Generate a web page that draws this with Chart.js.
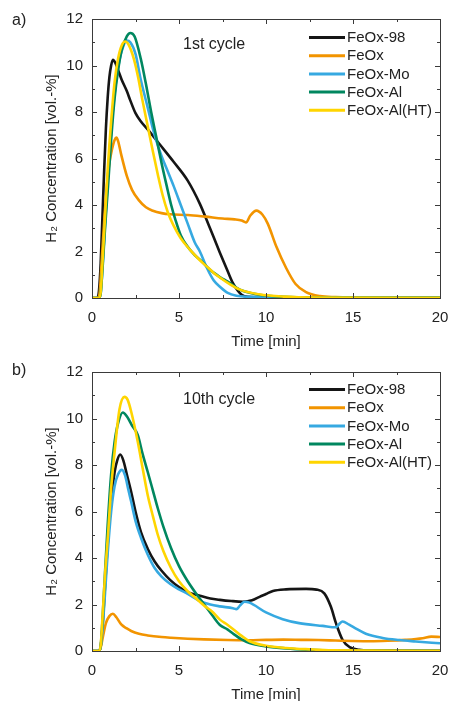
<!DOCTYPE html>
<html>
<head>
<meta charset="utf-8">
<script src="https://cdn.jsdelivr.net/npm/chart.js@4.4.0/dist/chart.umd.min.js"></script>
<style>
  html, body { margin: 0; padding: 0; background: #fff; overflow: hidden; }
  body { width: 449px; height: 701px; position: relative; }
  canvas { position: absolute; left: 0; }
  #chartA { top: 0; }
  #chartB { top: 351px; }
</style>
</head>
<body>
<canvas id="chartA" width="449" height="352"></canvas>
<canvas id="chartB" width="449" height="356"></canvas>
<script>
// series names and colours
const seriesNames = ['FeOx-98', 'FeOx', 'FeOx-Mo', 'FeOx-Al', 'FeOx-Al(HT)'];
const seriesColors = ['#151515', '#F29400', '#36A9E1', '#00875F', '#FFD500'];

const xTicks = [0, 5, 10, 15, 20];
const yTicks = [0, 2, 4, 6, 8, 10, 12];

// a) 1st cycle
const tA98 = [0, 0.3, 0.4, 0.5, 0.6, 0.7, 0.8, 0.9, 1.0, 1.1, 1.2, 1.35, 1.5, 1.7, 2.0, 2.2, 2.5, 2.8, 3.2, 3.9, 4.7, 5.5, 6.2, 6.7, 7.0, 7.35, 7.8, 8.1, 8.6, 9.0, 10, 20];
const vA98 = [0, 0, 0.3, 1.5, 3.5, 5.5, 7.3, 8.6, 9.5, 10.0, 10.25, 10.1, 9.8, 9.4, 8.9, 8.5, 7.95, 7.6, 7.25, 6.6, 5.85, 5.05, 4.05, 3.15, 2.6, 1.95, 1.15, 0.64, 0.14, 0.05, 0.03, 0.02];

const tAFe = [0, 0.35, 0.45, 0.55, 0.7, 0.85, 1.0, 1.15, 1.3, 1.4, 1.5, 1.7, 2.0, 2.3, 2.7, 3.1, 3.5, 4.0, 4.5, 5.5, 6.5, 7.5, 8.2, 8.6, 8.85, 9.1, 9.45, 9.8, 10.1, 10.6, 11.15, 11.7, 12.3, 13.1, 14, 16, 20];
const vAFe = [0, 0, 0.3, 1.5, 3.3, 4.8, 5.8, 6.4, 6.8, 6.9, 6.75, 6.1, 5.25, 4.65, 4.2, 3.9, 3.75, 3.65, 3.6, 3.57, 3.5, 3.42, 3.38, 3.33, 3.25, 3.55, 3.76, 3.58, 3.2, 2.2, 1.3, 0.6, 0.25, 0.08, 0.04, 0.02, 0.02];

const tAMo = [0, 0.4, 0.5, 0.6, 0.75, 0.9, 1.1, 1.3, 1.5, 1.7, 2.0, 2.2, 2.5, 2.8, 3.2, 3.6, 4.0, 4.35, 4.7, 5.1, 5.5, 5.9, 6.2, 6.6, 7.0, 7.4, 7.8, 8.3, 9, 10, 20];
const vAMo = [0, 0, 0.2, 1.3, 3.2, 5.0, 7.2, 8.8, 9.9, 10.6, 11.07, 11.0, 10.5, 9.4, 8.2, 7.0, 6.1, 5.45, 4.8, 4.0, 3.2, 2.4, 2.0, 1.3, 0.75, 0.45, 0.22, 0.1, 0.05, 0.03, 0.02];

const tAAl = [0, 0.4, 0.5, 0.6, 0.75, 0.92, 1.1, 1.3, 1.5, 1.7, 2.0, 2.2, 2.45, 2.8, 3.1, 3.4, 3.7, 4.0, 4.3, 4.55, 4.8, 5.1, 5.5, 5.9, 6.2, 6.8, 7.35, 7.8, 8.5, 9.6, 11, 13, 20];
const vAAl = [0, 0, 0.2, 1.2, 3.0, 4.8, 6.8, 8.6, 9.8, 10.65, 11.25, 11.4, 11.25, 10.3, 9.2, 8.0, 6.9, 5.8, 4.8, 4.0, 3.35, 2.7, 2.2, 1.85, 1.65, 1.2, 0.9, 0.7, 0.36, 0.14, 0.05, 0.02, 0.01];

const tAHT = [0, 0.4, 0.5, 0.6, 0.75, 0.9, 1.1, 1.3, 1.5, 1.7, 1.91, 2.1, 2.4, 2.65, 2.9, 3.2, 3.5, 3.8, 4.05, 4.35, 4.7, 5.1, 5.6, 6.1, 6.6, 7.0, 7.35, 7.8, 8.5, 9.6, 11, 13, 20];
const vAHT = [0, 0, 0.25, 1.5, 3.5, 5.5, 7.6, 9.3, 10.3, 10.85, 11.03, 10.9, 10.3, 9.5, 8.5, 7.4, 6.3, 5.25, 4.45, 3.7, 3.1, 2.57, 2.1, 1.7, 1.35, 1.08, 0.88, 0.65, 0.36, 0.16, 0.06, 0.02, 0.01];

// b) 10th cycle
const tB98 = [0, 0.4, 0.5, 0.6, 0.75, 0.9, 1.1, 1.3, 1.45, 1.62, 1.8, 2.0, 2.25, 2.5, 2.82, 3.2, 3.6, 4.0, 4.5, 5.0, 5.5, 6.2, 6.8, 7.35, 8.0, 8.67, 9.2, 9.63, 10.0, 10.4, 11.15, 12.3, 12.9, 13.35, 13.73, 14.02, 14.4, 14.8, 15.35, 16, 20];
const vB98 = [0, 0, 0.2, 1.0, 2.8, 4.6, 6.5, 7.7, 8.2, 8.45, 8.2, 7.6, 6.85, 6.0, 5.1, 4.4, 3.85, 3.45, 3.05, 2.75, 2.53, 2.38, 2.26, 2.2, 2.15, 2.12, 2.18, 2.33, 2.45, 2.58, 2.65, 2.67, 2.64, 2.48, 1.9, 1.2, 0.48, 0.17, 0.05, 0.02, 0.01];

const tBFe = [0, 0.4, 0.5, 0.65, 0.8, 1.0, 1.2, 1.4, 1.68, 2.0, 2.25, 2.7, 3.2, 4.0, 4.54, 5.5, 6.45, 7.8, 9, 10, 11, 12, 13, 14, 15, 16, 17, 18, 19, 19.5, 20];
const vBFe = [0, 0, 0.15, 0.7, 1.2, 1.5, 1.6, 1.45, 1.14, 0.97, 0.86, 0.74, 0.67, 0.6, 0.57, 0.53, 0.5, 0.47, 0.46, 0.48, 0.49, 0.48, 0.47, 0.45, 0.43, 0.42, 0.44, 0.48, 0.55, 0.62, 0.6];

const tBMo = [0, 0.4, 0.5, 0.6, 0.75, 0.9, 1.1, 1.3, 1.5, 1.72, 1.9, 2.1, 2.25, 2.5, 2.82, 3.2, 3.6, 4.0, 4.5, 5.0, 5.5, 6.2, 6.8, 7.35, 8.1, 8.3, 8.5, 8.77, 9.05, 10.0, 10.96, 11.9, 13.26, 14.02, 14.2, 14.4, 14.78, 15.2, 15.74, 16.7, 17.65, 18.6, 20];
const vBMo = [0, 0, 0.2, 0.9, 2.5, 4.2, 6.0, 7.1, 7.6, 7.79, 7.55, 6.9, 6.43, 5.6, 4.86, 4.15, 3.57, 3.2, 2.88, 2.65, 2.46, 2.15, 2.0, 1.92, 1.84, 1.8, 1.95, 2.12, 2.08, 1.66, 1.37, 1.2, 1.08, 1.02, 1.15, 1.27, 1.13, 0.95, 0.74, 0.56, 0.47, 0.41, 0.33];

const tBAl = [0, 0.4, 0.5, 0.6, 0.75, 0.9, 1.1, 1.3, 1.5, 1.77, 2.0, 2.3, 2.63, 2.9, 3.2, 3.5, 3.78, 4.1, 4.54, 5.0, 5.5, 6.0, 6.45, 6.9, 7.35, 7.8, 8.1, 8.6, 9.05, 10.0, 11.15, 12.5, 13.8, 20];
const vBAl = [0, 0, 0.2, 1.3, 3.4, 5.4, 7.6, 9.0, 9.8, 10.26, 10.1, 9.7, 9.29, 8.5, 7.71, 6.9, 6.14, 5.35, 4.43, 3.65, 3.0, 2.45, 2.0, 1.55, 1.12, 0.92, 0.75, 0.5, 0.34, 0.2, 0.11, 0.05, 0.02, 0.01];

const tBHT = [0, 0.4, 0.5, 0.6, 0.75, 0.92, 1.1, 1.3, 1.58, 1.87, 2.05, 2.25, 2.63, 2.9, 3.2, 3.5, 3.78, 4.1, 4.54, 5.0, 5.5, 6.0, 6.45, 6.9, 7.35, 7.8, 8.1, 8.6, 9.05, 10.0, 11.15, 12.5, 13.8, 20];
const vBHT = [0, 0, 0.25, 1.4, 3.3, 5.0, 7.0, 8.57, 10.4, 10.93, 10.8, 10.3, 9.0, 7.9, 6.71, 5.8, 5.0, 4.3, 3.57, 3.0, 2.57, 2.25, 1.95, 1.7, 1.35, 1.12, 0.95, 0.65, 0.42, 0.23, 0.13, 0.07, 0.03, 0.01];

const FONT = '"Liberation Sans", Arial, sans-serif';
const TXT = '#222';

function toPoints(ts, vs) {
    return ts.map((t, i) => ({ x: t, y: vs[i] }));
}

function buildDatasets(series) {
    return series.map((s, i) => ({
        label: seriesNames[i],
        data: toPoints(s[0], s[1]),
        borderColor: seriesColors[i],
        backgroundColor: seriesColors[i],
        borderWidth: 2.6,
        pointRadius: 0,
        fill: false,
        cubicInterpolationMode: 'monotone',
        order: series.length - 1 - i
    }));
}

// frame, inward ticks, legend and panel labels
const decorPlugin = {
    id: 'decor',
    afterDraw(chart) {
        const ctx = chart.ctx;
        const a = chart.chartArea;
        const xs = chart.scales.x, ys = chart.scales.y;
        const d = chart.options.plugins.decor;
        ctx.save();
        ctx.strokeStyle = '#3a3a3a';
        ctx.lineWidth = 1;
        ctx.beginPath();
        for (let v = 0; v <= 20; v += 2.5) {
            const px = Math.round(xs.getPixelForValue(v)) + 0.5;
            const len = v % 5 === 0 ? 5 : 3;
            ctx.moveTo(px, a.bottom); ctx.lineTo(px, a.bottom - len);
            ctx.moveTo(px, a.top); ctx.lineTo(px, a.top + len);
        }
        for (let v = 0; v <= 12; v += 1) {
            const py = Math.round(ys.getPixelForValue(v)) + 0.5;
            const len = v % 2 === 0 ? 5 : 3;
            ctx.moveTo(a.left, py); ctx.lineTo(a.left + len, py);
            ctx.moveTo(a.right, py); ctx.lineTo(a.right - len, py);
        }
        ctx.stroke();
        ctx.strokeRect(Math.round(a.left) + 0.5, Math.round(a.top) + 0.5,
            Math.round(a.right - a.left), Math.round(a.bottom - a.top));

        // legend
        ctx.font = '15px ' + FONT;
        ctx.textBaseline = 'middle';
        ctx.textAlign = 'left';
        chart.data.datasets.forEach((ds, i) => {
            const y = d.legendY + i * 18.2;
            ctx.strokeStyle = ds.borderColor;
            ctx.lineWidth = 3;
            ctx.beginPath();
            ctx.moveTo(309, y); ctx.lineTo(345, y);
            ctx.stroke();
            ctx.fillStyle = TXT;
            ctx.fillText(ds.label, 347, y + 0.5);
        });

        ctx.fillStyle = TXT;
        ctx.font = '16px ' + FONT;
        ctx.fillText(d.cycle, 183, d.cycleY);
        ctx.fillText(d.panel, 12, d.panelY);
        ctx.restore();
    }
};

function makeChart(id, series, areaTop, xHeight, titlePad, decor) {
    const ctx = document.getElementById(id).getContext('2d');
    return new Chart(ctx, {
        type: 'line',
        data: { datasets: buildDatasets(series) },
        options: {
            responsive: false,
            animation: false,
            layout: { padding: { top: areaTop, right: 9, left: 0, bottom: 0 } },
            plugins: {
                legend: { display: false },
                tooltip: { enabled: false },
                decor: decor
            },
            scales: {
                x: {
                    type: 'linear',
                    min: 0, max: 20,
                    afterBuildTicks: (s) => { s.ticks = xTicks.map(v => ({ value: v })); },
                    afterFit: (s) => { s.height = xHeight; s.paddingLeft = 0; s.paddingRight = 0; },
                    grid: { display: false, tickLength: 0 },
                    border: { display: false },
                    ticks: { color: TXT, font: { family: FONT, size: 15 }, padding: 11, maxRotation: 0, autoSkip: false },
                    title: { display: true, text: 'Time [min]', color: TXT, font: { family: FONT, size: 15 }, padding: { top: 0, bottom: titlePad } }
                },
                y: {
                    min: 0, max: 12,
                    afterBuildTicks: (s) => { s.ticks = yTicks.map(v => ({ value: v })); },
                    afterFit: (s) => { s.width = 92; s.paddingTop = 0; s.paddingBottom = 0; },
                    grid: { display: false, tickLength: 0 },
                    border: { display: false },
                    ticks: { color: TXT, font: { family: FONT, size: 15 }, padding: 9 },
                    title: { display: true, text: 'H\u2082 Concentration [vol.-%]', color: TXT, font: { family: FONT, size: 15 }, padding: { top: 43, bottom: 0 } }
                }
            }
        },
        plugins: [decorPlugin]
    });
}

document.addEventListener('DOMContentLoaded', function () {
    makeChart('chartA',
        [[tA98, vA98], [tAFe, vAFe], [tAMo, vAMo], [tAAl, vAAl], [tAHT, vAHT]],
        19, 54, 1,
        { legendY: 37.5, cycle: '1st cycle', cycleY: 45, panel: 'a)', panelY: 21 });
    makeChart('chartB',
        [[tB98, vB98], [tBFe, vBFe], [tBMo, vBMo], [tBAl, vBAl], [tBHT, vBHT]],
        21, 56, 3,
        { legendY: 38.5, cycle: '10th cycle', cycleY: 49, panel: 'b)', panelY: 20 });
});
</script>
</body>
</html>
